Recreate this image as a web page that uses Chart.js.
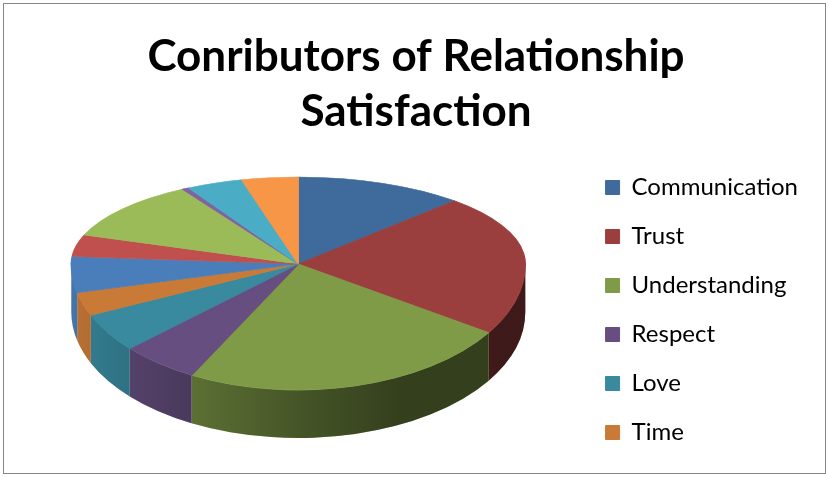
<!DOCTYPE html>
<html>
<head>
<meta charset="utf-8">
<script src="https://cdn.jsdelivr.net/npm/chart.js@4.4.0/dist/chart.umd.min.js"></script>
<style>
  html, body { margin: 0; padding: 0; background: #fff; }
</style>
</head>
<body>
<canvas id="chart" width="829" height="477"></canvas>
<script>
// slices read clockwise from 12 o'clock; only the first six are named in the legend
const categories = ['Communication', 'Trust', 'Understanding', 'Respect', 'Love', 'Time',
  'Slice 7', 'Slice 8', 'Slice 9', 'Slice 10', 'Slice 11', 'Slice 12'];
const shares = [12, 22, 23.5, 5.5, 5, 3, 5, 4, 11, 0.5, 4, 4];
const sliceColors = ['#3f6a9c', '#9b3f3e', '#7f9b47', '#664f80', '#39899f', '#c97a37',
  '#4a7ebb', '#c0504d', '#9bbb59', '#8064a2', '#4bacc6', '#f79646'];
const legendCount = 6;
const titleLines = ['Conributors of Relationship', 'Satisfaction'];

const frame = {
  id: 'frame',
  beforeDraw(chart) {
    const ctx = chart.ctx;
    ctx.save();
    ctx.fillStyle = '#fff';
    ctx.fillRect(0, 0, chart.width, chart.height);
    ctx.strokeStyle = '#868686';
    ctx.lineWidth = 1;
    ctx.strokeRect(3.5, 3.5, chart.width - 7, chart.height - 7);
    ctx.restore();
  }
};

// fake excel-style 3d look: squash the library's arcs and add a front wall
function pieView(chart, opts) {
  const arc = chart.getDatasetMeta(0).data[0];
  const p = arc.getProps(['x', 'y', 'outerRadius'], true);
  return { x0: p.x, y0: p.y, r0: p.outerRadius, cx: p.x + opts.offsetX, cy: p.y + opts.offsetY };
}

function tilt(ctx, v, rx, ry) {
  ctx.translate(v.cx, v.cy);
  ctx.scale(rx / v.r0, ry / v.r0);
  ctx.translate(-v.x0, -v.y0);
}

const pie3d = {
  id: 'pie3d',
  beforeDatasetsDraw(chart, args, opts) {
    const ctx = chart.ctx;
    const arcs = chart.getDatasetMeta(0).data;
    const v = pieView(chart, opts);
    const rx = opts.radiusX, rt = opts.radiusTop, rb = opts.radiusBottom, d = opts.depth;

    const shade = ctx.createLinearGradient(v.cx - rx, 0, v.cx + rx, 0);
    shade.addColorStop(0, 'rgba(0,0,0,0.08)');
    shade.addColorStop(0.28, 'rgba(0,0,0,0.29)');
    shade.addColorStop(0.5, 'rgba(0,0,0,0.45)');
    shade.addColorStop(0.72, 'rgba(0,0,0,0.59)');
    shade.addColorStop(1, 'rgba(0,0,0,0.6)');

    arcs.forEach(arc => {
      const a = arc.getProps(['startAngle', 'endAngle'], true);
      const a0 = Math.max(a.startAngle, 0);
      const a1 = Math.min(a.endAngle, Math.PI);
      if (a1 <= a0) return;
      ctx.beginPath();
      ctx.ellipse(v.cx, v.cy, rx, rb, 0, a0, a1);
      ctx.ellipse(v.cx, v.cy + d, rx, rb, 0, a1, a0, true);
      ctx.closePath();
      ctx.fillStyle = arc.options.backgroundColor;
      ctx.fill();
      ctx.fillStyle = shade;
      ctx.fill();
    });

    // far half of the top face
    ctx.save();
    ctx.beginPath();
    ctx.rect(0, 0, chart.width, v.cy + 0.5);
    ctx.clip();
    tilt(ctx, v, rx, rt);
    arcs.forEach(arc => arc.draw(ctx));
    ctx.restore();

    // near half, the chart draws it itself
    ctx.save();
    ctx.beginPath();
    ctx.rect(0, v.cy - 0.5, chart.width, chart.height);
    ctx.clip();
    tilt(ctx, v, rx, rb);
  },
  afterDatasetsDraw(chart) {
    chart.ctx.restore();
  }
};

new Chart(document.getElementById('chart'), {
  type: 'pie',
  data: {
    labels: categories,
    datasets: [{
      data: shares,
      backgroundColor: sliceColors,
      borderColor: sliceColors,
      borderWidth: 1
    }]
  },
  plugins: [frame, pie3d],
  options: {
    responsive: false,
    animation: false,
    events: [],
    layout: { padding: { left: 24, right: 21, top: 0, bottom: 0 } },
    plugins: {
      title: {
        display: true,
        text: titleLines,
        color: '#000',
        font: { family: 'Lato', size: 44, weight: 'bold', lineHeight: 1.25 },
        padding: { top: 29, bottom: 4 }
      },
      legend: {
        position: 'right',
        align: 'center',
        fullSize: false,
        labels: {
          boxWidth: 14,
          boxHeight: 14,
          padding: 25,
          color: '#000',
          font: { family: 'Lato', size: 24 },
          filter: item => item.index < legendCount
        }
      },
      tooltip: { enabled: false },
      pie3d: {
        radiusX: 227,
        radiusTop: 87,
        radiusBottom: 126,
        depth: 48,
        offsetX: -4,
        offsetY: -46
      }
    }
  }
});
</script>
</body>
</html>
